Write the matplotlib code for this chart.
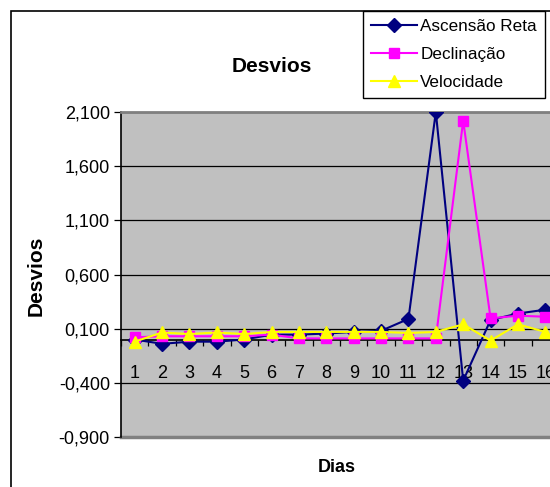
import numpy as np
import matplotlib
matplotlib.use("Agg")
import matplotlib.pyplot as plt
from matplotlib.patches import Rectangle
from matplotlib.ticker import FixedLocator, FuncFormatter

plt.rcParams['font.family'] = ['Liberation Sans', 'DejaVu Sans']

# ===================== dados =====================
dias = list(range(1, 17))
ascensao = [0.00, -0.04, -0.02, -0.02, 0.00, 0.045, 0.045, 0.055,
            0.07, 0.08, 0.19, 2.10, -0.38, 0.18, 0.24, 0.275]
declinacao = [0.02, 0.03, 0.03, 0.03, 0.03, 0.045, 0.01, 0.01,
              0.01, 0.01, 0.01, 0.01, 2.02, 0.195, 0.22, 0.21]
velocidade = [-0.02, 0.065, 0.05, 0.065, 0.05, 0.07, 0.07, 0.07,
              0.07, 0.07, 0.06, 0.07, 0.14, -0.01, 0.14, 0.07]
y_ticks = [-0.9, -0.4, 0.1, 0.6, 1.1, 1.6, 2.1]

# ===================== figura =====================
fig = plt.figure(figsize=(5.5, 4.87), dpi=100)
W, H = 550, 487

# moldura externa do gráfico (cortada à direita e embaixo)
fig.patches.append(Rectangle((11 / W, -0.1), 1.2, 1 - 11 / H + 0.1,
                             transform=fig.transFigure, fill=False,
                             edgecolor='black', lw=1.2, zorder=0))

ax = fig.add_axes([121 / W, (H - 437) / H, (559 - 121) / W, (437 - 112) / H])
ax.set_facecolor('#C0C0C0')

ax.plot(dias, ascensao, color='#000080', lw=1.5, marker='D', ms=7,
        label='Ascensão Reta', zorder=3)
ax.plot(dias, declinacao, color='#FF00FF', lw=1.5, marker='s', ms=7.5,
        label='Declinação', zorder=4)
ax.plot(dias, velocidade, color='#FFFF00', lw=1.5, marker='^', ms=9,
        label='Velocidade', zorder=5)

ax.set_xlim(0.5, 16.5)
ax.set_ylim(-0.9, 2.1)

# grade horizontal
ax.yaxis.set_major_locator(FixedLocator(y_ticks))
ax.yaxis.set_major_formatter(FuncFormatter(lambda v, p: f"{v:.3f}".replace('.', ',')))
ax.grid(axis='y', color='black', lw=0.9, zorder=1)
ax.set_axisbelow(True)
ax.tick_params(axis='y', direction='out', length=5, width=0.9, pad=3, labelsize=13)

# eixo das categorias cruzando em zero
ax.spines['bottom'].set_position(('data', 0))
ax.spines['bottom'].set_color('black')
ax.spines['bottom'].set_linewidth(1.2)
ax.spines['bottom'].set_zorder(2)
ax.set_xticks(dias)
ax.set_xticks(np.arange(0.5, 17, 1.0), minor=True)
ax.tick_params(axis='x', which='major', length=0, pad=18, labelsize=13)
ax.tick_params(axis='x', which='minor', direction='out', length=4, width=0.9)

ax.spines['left'].set_color('black')
ax.spines['left'].set_linewidth(1.2)
ax.spines['top'].set_color('#808080')
ax.spines['top'].set_linewidth(2)
ax.spines['right'].set_visible(False)
# borda inferior da área de plotagem
ax.axhline(-0.9, color='#808080', lw=2.5, zorder=2, clip_on=False)

# textos
fig.text(272 / W, 1 - 66 / H, 'Desvios', ha='center', va='center',
         fontsize=15, fontweight='bold')
fig.text(337 / W, 1 - 467 / H, 'Dias', ha='center', va='center',
         fontsize=13, fontweight='bold')
fig.text(36 / W, 1 - 276 / H, 'Desvios', ha='center', va='center',
         fontsize=15, fontweight='bold', rotation=90)

leg = fig.legend(loc='upper left', bbox_to_anchor=(363 / W, 1 - 11 / H),
                 bbox_transform=fig.transFigure, fontsize=12.3, frameon=True,
                 fancybox=False, edgecolor='black', framealpha=1,
                 handlelength=2.7, handletextpad=0.2, labelspacing=0.78,
                 borderpad=0.45, borderaxespad=0)
leg.get_frame().set_linewidth(1.0)

fig.savefig('out.png', dpi=100)
